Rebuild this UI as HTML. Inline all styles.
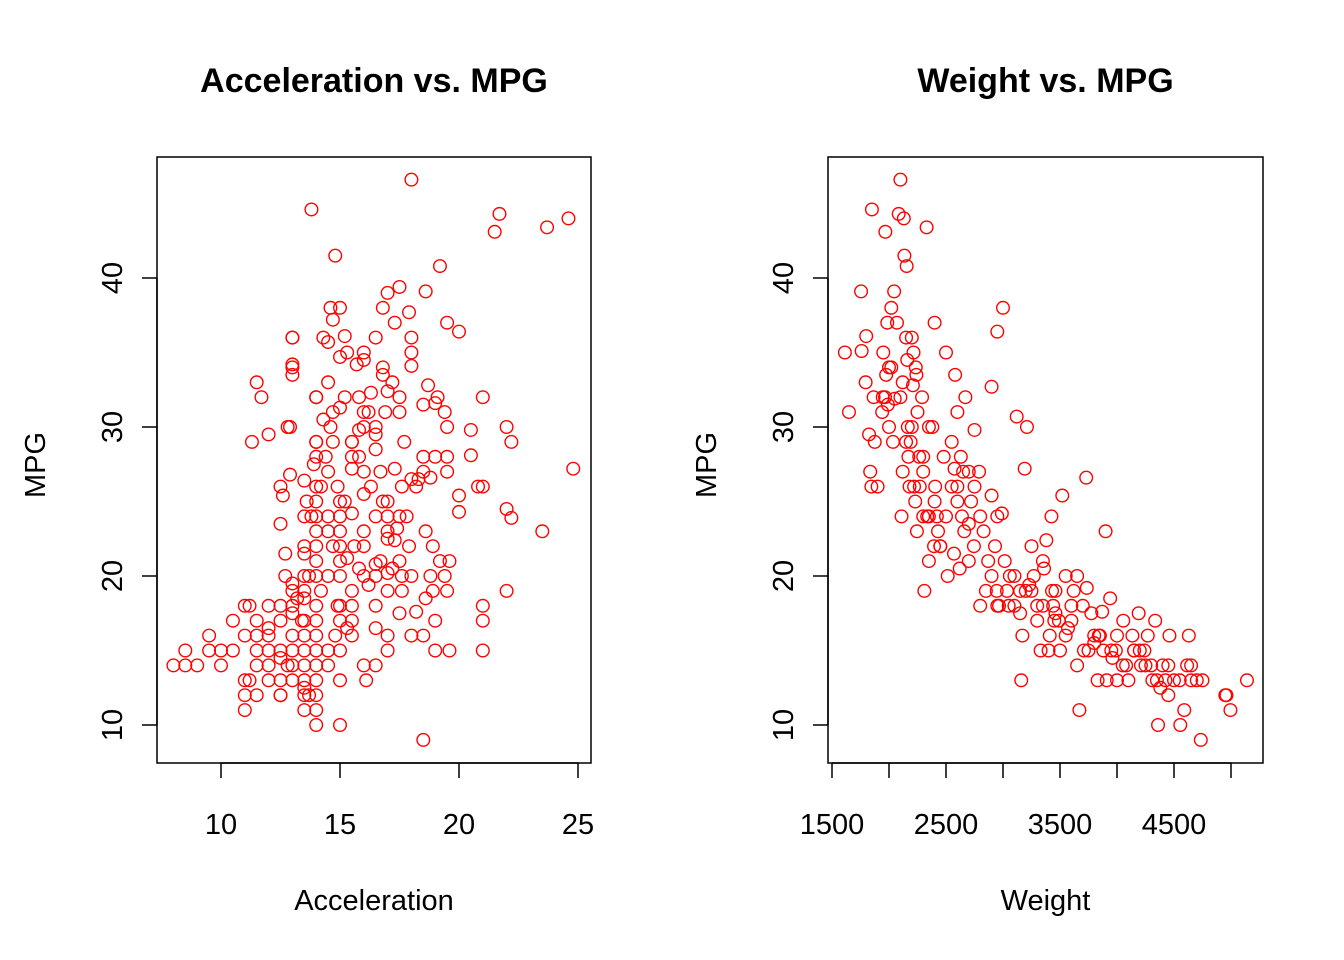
<!DOCTYPE html>
<html><head><meta charset="utf-8"><style>
html,body{margin:0;padding:0;background:#fff;}
svg{display:block;font-family:"Liberation Sans",Arial,sans-serif;}
</style></head><body>
<svg id="chart" width="1344" height="960" viewBox="0 0 1344 960"></svg>
<script>
const accelX=[13.8,18,24.6,23.7,21.5,21.7,14.8,19.2,17.5,18.6,17,16.8,14.6,15,17.9,17.3,19.5,20,18,16.5,13,14.7,15.2,14.5,14.3,18,15,15.3,16.8,18,16,13,13,15.7,14.5,17.2,16.3,17,18.7,19.1,21,14,15.8,15,16.2,17.5,19,19.4,18.5,16,16.5,14.6,12.9,19.5,20.5,22,22.2,15.8,14,15.5,16.5,17.7,19.5,18.5,16.5,14.4,13.9,15.5,16.7,18.5,18.8,20.5,20.8,21,20,20,22,22.2,23.5,24.8,12.9,12.5,12.6,12.5,13.5,13.6,13.5,14.2,14.9,15,15.5,16,16.3,16.8,17,17.5,17.4,17.3,17.9,18.6,18.9,19.6,19.4,19.5,18.8,18.9,18.6,19,19,19.6,21,21,21,22,18,18.5,18.2,17.5,17.6,17.6,18,17,17,17.2,16.5,16.5,16.2,16,15.8,15.5,15.5,15.5,15.5,15.3,15,15,15,15,15,16,16.5,16.1,16.5,16.5,17,17,18.5,16,16,16.5,15,15,15,15,14.7,14.5,14.5,14,13.5,13.5,13.5,12.5,13,13,13.2,13.4,14.5,15,15.3,15.6,16.7,17,17,17.3,17.6,18,18.3,17.8,16,15.8,14.5,14.7,15.2,15.5,16.9,17.5,16.8,16,14.3,14.7,13.8,12.5,12.8,12,11.5,11,10.5,11.2,12.5,13.7,14.5,14.5,14.8,14.9,14.2,13.7,17,17.5,15.2,15.5,18.2,19.2,19,19.5,16,
8,8.5,8.5,9,9.5,9.5,10,10,10.5,11,11,11,11,11.2,11.5,11.5,11.5,11.5,12,12,12,12,12,12.5,12.5,12.5,12.5,13,13,13,13,13,13,13.5,13.5,13.5,13.5,13.5,13.5,13.5,13.5,13.5,13.5,
14,14,14,14,14,14,14,14,14,14,14,14,14,14,14,14,14,14,
11.5,11.7,11.3,12,12.8,13,13,12.7,12.7];
const accelMpg=[44.6,46.6,44,43.4,43.1,44.3,41.5,40.8,39.4,39.1,39,38,38,38,37.7,37,37,36.4,36,36,36,37.2,36.1,35.7,36,35,34.7,35,34,34.1,34.5,34.2,33.5,34.2,33,33,32.3,32.4,32.8,32,32,32,32,31.3,31,31,31.6,31,31.5,30,30,30,30,30,29.8,30,29,29.8,29,29,29.5,29,28,28,28.5,28,27.5,27.2,27,27,26.6,28.1,26,26,25.4,24.3,24.5,23.9,23,27.2,26.8,26,25.4,23.5,24,25,26.4,26,26,25,24.2,25.5,26,25,24,24,23.2,22.4,22,23,22,21,20,19,20,19,18.5,17,15,15,18,17,15,19,16,16,17.6,17.5,19,20,20,20.2,19,20.5,20.8,20,19.4,20,20.5,19,18,17,16,16.5,18,17,15,13,10,14,14,13,18,16.5,16,15,9,22,23,24,24,23,22,21,22,23,24,23,22,20,21.5,18,17.5,19.5,18.5,17,20,20,21.2,22,21,23,25,27.2,26,26.5,26.5,24,27,28,27,29,32,28,31,32,33.5,31,30.5,31,24,14.5,14,16.5,17,16,15,13,12,12,14,15,16,18,19,20,22.5,21,25,29,26,21,28,27,35,
14,15,14,14,16,15,15,14,17,18,13,12,11,18,16,15,14,12,18,16,15,14,13,17,15,13,12,14,13,15,16,19,18,19,17,16,15,14,13,12,11,12.5,18.5,
15,14,13,12,11,10,16,17,18,20,21,22,24,25,26,28,29,32,
33,32,29,29.5,30,36,34,21.5,20];
const weightX=[1613,1649,1755,1760,1795,1800,1825,1835,1845,1850,1865,1875,1900,1940,1945,1950,1965,1968,1975,1985,1990,2000,2000,2020,2035,2045,2050,2070,2085,2100,2110,2120,2120,2130,2135,2150,2155,2160,2165,2170,2180,2190,2200,2210,2215,2220,2230,2235,2240,2245,2265,2270,2290,2300,2300,2310,2330,2335,2350,2380,2395,2400,2405,2420,2430,2450,2480,2500,2515,2550,2570,2575,2580,2600,2600,2620,2630,2640,2660,2670,2700,2720,2745,2750,2790,2800,2830,2870,2900,2900,2930,2945,2950,2965,2990,3000,3015,3035,3060,3100,3120,3150,3160,3170,3190,3210,3230,3250,3270,3300,3330,3360,3380,3410,3425,3430,3440,3460,3490,3520,3550,3570,3600,3620,3650,3670,3710,3730,3735,3775,3800,3830,3840,3870,3880,3900,3910,3940,3960,3990,4000,4055,4080,4100,4135,4150,4190,4210,4240,4270,4300,4310,4335,4360,4380,4400,4425,4450,4460,4500,4555,4590,4615,4630,4650,4700,4735,4750,4950,4960,4995,5140,2800,2600,2700,2500,2200,2100,2020,2550,2900,3100,3300,3400,3500,3700,3800,4000,4200,3600,2400,2350,2300,2150,2250,2950,2700,3200,3350,3460,3650,2850,2950,3050,3150,3250,3350,3450,3550,3750,3850,3950,4050,4150,4250,4350,4450,4550,4650,2650,2750,2450,2350];
const weightMpg=[35,31,39.1,35.1,33,36.1,29.5,27,26,44.6,32,29,26,31,32,35,32,43.1,33.5,37,31.5,34,30,38,29,39.1,31.9,37,44.3,46.6,24,27,33,44,41.5,36,40.8,34.5,30,28,26,29,36,32.8,35,26,25,34,33.5,23,28,26,32,27,24,19,43.4,24,30,30,22,37,26,24,23,22,28,35,20,29,21.5,27.2,33.5,25,31,20.5,28,24,23,32,27,25,22,29.8,27,18,23,21,32.7,25.4,22,19,36.4,18,24.2,38,21,19,20,18,30.7,17.5,13,16,27.2,30,19.4,22,20,18,15,20.5,22.4,16,24,19,18,17.5,17,25.4,20,16.5,18,19,14,11,15,26.6,19.2,17.5,15.5,13,16,17.6,15,23,13,18.5,14.5,15,13,17,14,13,16,15,17.5,14,15,16,14,13,17,10,12.5,14,13,12,16,13,10,11,14,16,13,13,9,13,12,12,11,13,24,26,23.5,24,30,32,34,26,20,20,17,15,15,18,16,16,15,17,25,24,28,29,31,24,21,19,21,19,20,19,18,18,19,19,18,17,16,15,16,15,14,15,14,13,14,13,14,27,26,22,21];

const NS='http://www.w3.org/2000/svg';
const svg=document.getElementById('chart');
function mk(tag,attrs,parent){const e=document.createElementNS(NS,tag);for(const k in attrs)e.setAttribute(k,attrs[k]);(parent||svg).appendChild(e);return e;}

function panel(opt){
  const g=mk('g',{});
  
  
  const sx=v=>opt.px0+(v-opt.x0)*(opt.px1-opt.px0)/(opt.x1-opt.x0);
  const sy=v=>725+(v-10)*(278-725)/30;
  const box=mk('rect',{x:opt.bx0,y:157,width:opt.bx1-opt.bx0,height:606,fill:'none',stroke:'#000','stroke-width':1.5},g);
  
  
  const t=mk('text',{x:(opt.bx0+opt.bx1)/2,y:92,'text-anchor':'middle','font-size':34,'font-weight':'bold'},g);
  t.textContent=opt.title;
  
  
  const xt=opt.xticks;
  const xa=mk('g',{},g);
  
  
  mk('line',{x1:sx(xt[0]),x2:sx(xt[xt.length-1]),y1:763,y2:763,stroke:'#000','stroke-width':1.5},xa);
  xt.forEach((v,i)=>{
    mk('line',{x1:sx(v),x2:sx(v),y1:763,y2:778,stroke:'#000','stroke-width':1.5},xa);
    if(opt.xlabels[i]){const l=mk('text',{x:sx(v),y:834,'text-anchor':'middle','font-size':29},xa);l.textContent=opt.xlabels[i];
      
      }
  });
  const xl=mk('text',{x:(opt.bx0+opt.bx1)/2,y:910,'text-anchor':'middle','font-size':29},g);
  xl.textContent=opt.xlab;
  
  
  const ya=mk('g',{},g);
  
  
  const yt=[10,20,30,40];
  mk('line',{x1:opt.bx0,x2:opt.bx0,y1:sy(10),y2:sy(40),stroke:'#000','stroke-width':1.5},ya);
  yt.forEach(v=>{
    mk('line',{x1:opt.bx0-15,x2:opt.bx0,y1:sy(v),y2:sy(v),stroke:'#000','stroke-width':1.5},ya);
    const l=mk('text',{x:opt.bx0-45,y:sy(v),'text-anchor':'middle','font-size':29,transform:`rotate(-90 ${opt.bx0-45} ${sy(v)})`,dy:10},ya);
    l.textContent=String(v);
    
    
  });
  const yl=mk('text',{x:opt.bx0-122,y:465,'text-anchor':'middle','font-size':29,transform:`rotate(-90 ${opt.bx0-122} 465)`,dy:10},g);
  yl.textContent='MPG';
  
  
  const pts=mk('g',{},g);
  
  
  const n=Math.min(opt.xs.length,opt.ys.length);
  for(let i=0;i<n;i++){
    const c=mk('circle',{cx:sx(opt.xs[i]),cy:sy(opt.ys[i]),r:6.3,fill:'none',stroke:'#ff0000','stroke-width':1.4},pts);
    
    
  }
}
panel({name:'acceleration-panel',title:'Acceleration vs. MPG',xlab:'Acceleration',bx0:157,bx1:591,x0:10,x1:25,px0:221,px1:578,
  xticks:[10,15,20,25],xlabels:['10','15','20','25'],xs:accelX,ys:accelMpg});
panel({name:'weight-panel',title:'Weight vs. MPG',xlab:'Weight',bx0:828,bx1:1263,x0:1500,x1:4500,px0:832,px1:1174,
  xticks:[1500,2000,2500,3000,3500,4000,4500,5000],xlabels:['1500','','2500','','3500','','4500',''],xs:weightX,ys:weightMpg});
</script>
</body></html>
